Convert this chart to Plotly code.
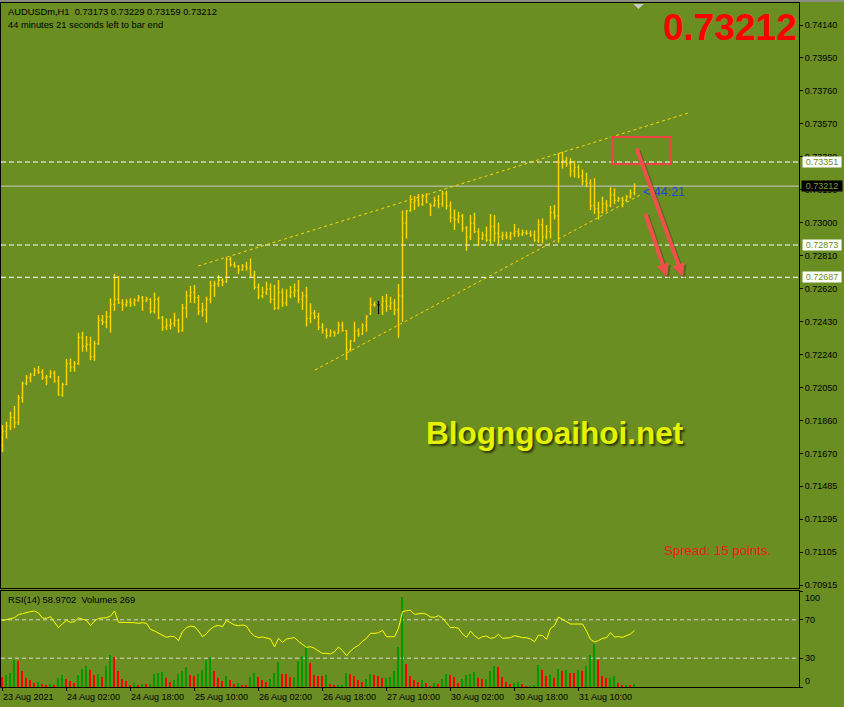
import plotly.graph_objects as go

# ---------------- data ----------------
symbol = "AUDUSDm,H1"
time_left = (44, 21)          # minutes, seconds left to bar end
spread_points = 15
site = "Blogngoaihoi.net"

opens = [0.71720, 0.71800, 0.71830, 0.71880, 0.71850, 0.71995, 0.72075, 0.72110, 0.72125, 0.72150,
         0.72140, 0.72110, 0.72115, 0.72135, 0.72090, 0.72010, 0.72070, 0.72190, 0.72170, 0.72190,
         0.72340, 0.72290, 0.72300, 0.72230, 0.72305, 0.72440, 0.72430, 0.72460, 0.72530, 0.72560,
         0.72540, 0.72530, 0.72545, 0.72540, 0.72555, 0.72570, 0.72550, 0.72560, 0.72490, 0.72560,
         0.72455, 0.72400, 0.72410, 0.72420, 0.72440, 0.72380, 0.72510, 0.72580, 0.72600, 0.72570,
         0.72490, 0.72500, 0.72560, 0.72640, 0.72650, 0.72670, 0.72660, 0.72790, 0.72760, 0.72750,
         0.72730, 0.72750, 0.72740, 0.72700, 0.72630, 0.72580, 0.72600, 0.72620, 0.72560, 0.72510,
         0.72600, 0.72540, 0.72580, 0.72600, 0.72610, 0.72560, 0.72580, 0.72450, 0.72480, 0.72460,
         0.72400, 0.72380, 0.72350, 0.72370, 0.72365, 0.72410, 0.72380, 0.72270, 0.72320, 0.72380,
         0.72360, 0.72410, 0.72475, 0.72530, 0.72530, 0.72530, 0.72550, 0.72520, 0.72540, 0.72500,
         0.72580, 0.73000, 0.73070, 0.73120, 0.73130, 0.73110, 0.73150, 0.73110, 0.73100, 0.73130,
         0.73110, 0.73170, 0.73100, 0.73030, 0.73020, 0.73040, 0.72970, 0.72920, 0.73000, 0.72950,
         0.72910, 0.72930, 0.72900, 0.72980, 0.72940, 0.72920, 0.72930, 0.72920, 0.72940, 0.72950,
         0.72935, 0.72945, 0.72940, 0.72930, 0.72900, 0.72990, 0.72920, 0.72950, 0.73060, 0.73040,
         0.73350, 0.73360, 0.73340, 0.73300, 0.73320, 0.73270, 0.73240, 0.73230, 0.73100, 0.73080,
         0.73060, 0.73110, 0.73100, 0.73160, 0.73130, 0.73140, 0.73130, 0.73150, 0.73173]
highs = [0.71836, 0.71855, 0.71913, 0.71946, 0.72009, 0.72086, 0.72124, 0.72137, 0.72166, 0.72176,
         0.72157, 0.72124, 0.72153, 0.72149, 0.72118, 0.72080, 0.72216, 0.72220, 0.72205, 0.72368,
         0.72374, 0.72349, 0.72345, 0.72322, 0.72470, 0.72470, 0.72493, 0.72566, 0.72706, 0.72694,
         0.72560, 0.72560, 0.72566, 0.72566, 0.72585, 0.72579, 0.72575, 0.72566, 0.72600, 0.72575,
         0.72464, 0.72450, 0.72450, 0.72483, 0.72450, 0.72533, 0.72610, 0.72637, 0.72642, 0.72585,
         0.72541, 0.72575, 0.72667, 0.72667, 0.72700, 0.72681, 0.72802, 0.72806, 0.72777, 0.72758,
         0.72763, 0.72777, 0.72796, 0.72725, 0.72652, 0.72633, 0.72662, 0.72652, 0.72643, 0.72671,
         0.72623, 0.72618, 0.72637, 0.72652, 0.72671, 0.72604, 0.72633, 0.72537, 0.72499, 0.72483,
         0.72422, 0.72393, 0.72387, 0.72380, 0.72431, 0.72431, 0.72383, 0.72326, 0.72431, 0.72393,
         0.72422, 0.72470, 0.72570, 0.72547, 0.72550, 0.72579, 0.72591, 0.72575, 0.72560, 0.72648,
         0.73071, 0.73075, 0.73161, 0.73155, 0.73167, 0.73167, 0.73171, 0.73113, 0.73151, 0.73161,
         0.73186, 0.73186, 0.73123, 0.73078, 0.73065, 0.73052, 0.72982, 0.73046, 0.73059, 0.72969,
         0.72950, 0.72979, 0.73052, 0.73046, 0.73002, 0.72950, 0.72950, 0.72950, 0.72994, 0.72969,
         0.72963, 0.72959, 0.72956, 0.72956, 0.73021, 0.73026, 0.72988, 0.73097, 0.73103, 0.73404,
         0.73410, 0.73381, 0.73372, 0.73358, 0.73337, 0.73308, 0.73289, 0.73251, 0.73257, 0.73122,
         0.73151, 0.73132, 0.73205, 0.73199, 0.73151, 0.73151, 0.73161, 0.73193, 0.73229]
lows = [0.71680, 0.71759, 0.71807, 0.71817, 0.71836, 0.71965, 0.72066, 0.72082, 0.72118, 0.72130,
        0.72095, 0.72066, 0.72105, 0.72080, 0.72005, 0.71999, 0.72066, 0.72143, 0.72143, 0.72182,
        0.72258, 0.72258, 0.72210, 0.72207, 0.72297, 0.72412, 0.72393, 0.72368, 0.72495, 0.72533,
        0.72495, 0.72518, 0.72518, 0.72522, 0.72546, 0.72495, 0.72546, 0.72479, 0.72479, 0.72445,
        0.72379, 0.72383, 0.72387, 0.72402, 0.72368, 0.72374, 0.72454, 0.72541, 0.72537, 0.72470,
        0.72460, 0.72425, 0.72537, 0.72575, 0.72633, 0.72637, 0.72656, 0.72748, 0.72744, 0.72706,
        0.72725, 0.72725, 0.72690, 0.72617, 0.72560, 0.72566, 0.72585, 0.72537, 0.72499, 0.72502,
        0.72518, 0.72522, 0.72566, 0.72572, 0.72537, 0.72499, 0.72403, 0.72422, 0.72445, 0.72384,
        0.72364, 0.72335, 0.72345, 0.72345, 0.72364, 0.72374, 0.72211, 0.72259, 0.72316, 0.72345,
        0.72355, 0.72374, 0.72470, 0.72518, 0.72476, 0.72470, 0.72489, 0.72499, 0.72470, 0.72339,
        0.72431, 0.72911, 0.73065, 0.73075, 0.73094, 0.73098, 0.73113, 0.73040, 0.73094, 0.73084,
        0.73094, 0.73078, 0.73002, 0.72959, 0.72998, 0.72950, 0.72840, 0.72902, 0.72940, 0.72867,
        0.72902, 0.72892, 0.72879, 0.72892, 0.72879, 0.72902, 0.72906, 0.72902, 0.72921, 0.72921,
        0.72925, 0.72931, 0.72921, 0.72892, 0.72886, 0.72882, 0.72905, 0.72911, 0.73020, 0.72886,
        0.73314, 0.73324, 0.73266, 0.73262, 0.73257, 0.73218, 0.73205, 0.73074, 0.73051, 0.73020,
        0.73055, 0.73065, 0.73090, 0.73109, 0.73122, 0.73090, 0.73122, 0.73141, 0.73159]
closes = [0.71800, 0.71830, 0.71880, 0.71850, 0.71995, 0.72075, 0.72110, 0.72125, 0.72150, 0.72140,
          0.72110, 0.72115, 0.72135, 0.72090, 0.72010, 0.72070, 0.72190, 0.72170, 0.72190, 0.72340,
          0.72290, 0.72300, 0.72230, 0.72305, 0.72440, 0.72430, 0.72460, 0.72530, 0.72560, 0.72540,
          0.72530, 0.72545, 0.72540, 0.72555, 0.72570, 0.72550, 0.72560, 0.72490, 0.72560, 0.72455,
          0.72400, 0.72410, 0.72420, 0.72440, 0.72380, 0.72510, 0.72580, 0.72600, 0.72570, 0.72490,
          0.72500, 0.72560, 0.72640, 0.72650, 0.72670, 0.72660, 0.72790, 0.72760, 0.72750, 0.72730,
          0.72750, 0.72740, 0.72700, 0.72630, 0.72580, 0.72600, 0.72620, 0.72560, 0.72510, 0.72600,
          0.72540, 0.72580, 0.72600, 0.72610, 0.72560, 0.72580, 0.72450, 0.72480, 0.72460, 0.72400,
          0.72380, 0.72350, 0.72370, 0.72365, 0.72410, 0.72380, 0.72270, 0.72320, 0.72380, 0.72360,
          0.72410, 0.72460, 0.72530, 0.72530, 0.72530, 0.72550, 0.72520, 0.72540, 0.72500, 0.72580,
          0.73000, 0.73070, 0.73120, 0.73130, 0.73110, 0.73150, 0.73120, 0.73100, 0.73130, 0.73110,
          0.73170, 0.73100, 0.73030, 0.73020, 0.73040, 0.72970, 0.72920, 0.73000, 0.72950, 0.72910,
          0.72930, 0.72900, 0.72980, 0.72940, 0.72920, 0.72930, 0.72920, 0.72940, 0.72950, 0.72935,
          0.72945, 0.72940, 0.72930, 0.72900, 0.72990, 0.72920, 0.72950, 0.73060, 0.73040, 0.73350,
          0.73360, 0.73340, 0.73300, 0.73320, 0.73270, 0.73240, 0.73230, 0.73100, 0.73080, 0.73060,
          0.73110, 0.73100, 0.73160, 0.73130, 0.73140, 0.73130, 0.73150, 0.73173, 0.73212]
volumes = [900, 1050, 1290, 2400, 2310, 1410, 810, 600, 390, 450,
           300, 150, 240, 210, 840, 1110, 690, 510, 360, 1050,
           1590, 1860, 1500, 1050, 1200, 900, 1890, 2850, 2700, 1410,
           750, 510, 210, 390, 150, 300, 240, 270, 1170, 1260,
           1320, 840, 420, 600, 1200, 1470, 1800, 1050, 990, 1140,
           1500, 2430, 2670, 1410, 810, 540, 960, 600, 270, 360,
           210, 200, 900, 1290, 930, 600, 450, 690, 1230, 2220,
           1200, 1140, 900, 930, 2310, 2760, 3600, 2130, 1110, 990,
           960, 1080, 240, 120, 150, 180, 1230, 1200, 990, 600,
           450, 690, 1140, 1110, 990, 810, 840, 870, 1410, 3600,
           8100, 2040, 960, 600, 450, 600, 360, 90, 330, 270,
           690, 1140, 1110, 900, 390, 690, 1050, 1200, 1320, 810,
           720, 750, 1410, 1890, 1800, 900, 450, 270, 360, 450,
           270, 60, 90, 150, 1950, 1500, 990, 1050, 810, 1590,
           1410, 1500, 1260, 1230, 1500, 1470, 1890, 2850, 3870, 2400,
           990, 810, 840, 990, 360, 180, 210, 150, 269]
rsi = [69.1, 69.8, 71.2, 72.2, 75.4, 76.4, 77.8, 78.5, 79.2, 77.1,
       71.9, 71.5, 73.3, 68.1, 61.8, 66.0, 69.4, 67.4, 68.0, 71.9,
       70.8, 69.4, 63.9, 68.7, 71.5, 71.5, 72.2, 73.9, 79.2, 67.4,
       67.4, 67.0, 67.4, 67.0, 66.3, 67.0, 66.3, 60.1, 58.3, 56.2,
       53.5, 51.7, 52.8, 52.4, 48.3, 57.6, 61.8, 63.5, 62.8, 58.3,
       52.4, 55.6, 60.4, 63.2, 64.2, 62.8, 69.4, 67.4, 64.6, 63.9,
       64.6, 63.5, 56.9, 53.1, 51.4, 52.1, 51.4, 50.0, 41.7, 50.7,
       46.5, 50.0, 50.7, 51.4, 47.6, 44.4, 41.3, 42.0, 40.3, 37.5,
       35.1, 35.1, 34.4, 36.8, 41.7, 37.9, 32.6, 37.5, 41.0, 43.4,
       47.6, 50.7, 55.9, 55.9, 56.6, 59.0, 52.4, 52.4, 52.4, 61.1,
       78.5, 79.5, 79.9, 75.7, 76.0, 76.8, 75.7, 72.9, 72.6, 74.3,
       71.9, 67.4, 61.8, 62.2, 61.1, 55.2, 51.7, 58.3, 53.5, 50.4,
       52.4, 53.1, 50.7, 51.4, 54.9, 50.7, 51.4, 51.4, 53.5, 52.4,
       51.4, 51.4, 50.0, 47.2, 54.2, 53.5, 49.7, 61.1, 63.9, 72.9,
       70.5, 68.8, 65.6, 65.6, 65.3, 65.6, 58.3, 49.7, 46.9, 48.3,
       50.7, 51.4, 56.6, 52.1, 52.4, 51.8, 53.5, 55.2, 58.9702]
black_bar = 94   # the single bar drawn in black

price_ticks = [0.74140, 0.73950, 0.73760, 0.73570, 0.73380, 0.73190, 0.73000, 0.72810, 0.72620,
               0.72430, 0.72240, 0.72050, 0.71860, 0.71670, 0.71485, 0.71295, 0.71105, 0.70915]
rsi_levels = [100, 70, 30, 0]
x_tick_idx = [0, 16, 32, 48, 64, 80, 96, 112, 128, 144]
x_tick_text = ["23 Aug 2021", "24 Aug 02:00", "24 Aug 18:00", "25 Aug 10:00", "26 Aug 02:00",
               "26 Aug 18:00", "27 Aug 10:00", "30 Aug 02:00", "30 Aug 18:00", "31 Aug 10:00"]

h_levels = [0.73351, 0.72873, 0.72687]
upper_x, upper_y = [48.9, 171.4], [0.72752, 0.73633]
lower_x, lower_y = [78.1, 159.4], [0.72153, 0.73161]
zone_x, zone_y = [152.4, 167.1], [0.73340, 0.73495]
arrow_tail_x, arrow_tail_y = [158.4, 160.6], [0.73437, 0.73063]
arrow_head_x, arrow_head_y = [170.1, 166.1], [0.72690, 0.72690]

# ---------------- layout helpers ----------------
W, H = 844, 707
L, R, T, B = 1, 799, 3, 687
def fx(p): return (p - L) / (R - L)
def fy(p): return (B - p) / (B - T)

OLIVE = "#6B8E23"
GOLD = "#FFD700"
FONT = "Liberation Sans, Arial, sans-serif"
n = len(closes)
idx = list(range(n))

fig = go.Figure()

# price bars
fig.add_trace(go.Ohlc(x=idx, open=opens, high=highs, low=lows, close=closes,
                      xaxis="x", yaxis="y", tickwidth=0.3, line=dict(width=1.4),
                      increasing=dict(line=dict(color=GOLD, width=1.4)),
                      decreasing=dict(line=dict(color=GOLD, width=1.4)),
                      hoverinfo="skip", showlegend=False))
b = black_bar
fig.add_trace(go.Ohlc(x=[b], open=[opens[b]], high=[highs[b]], low=[lows[b]], close=[closes[b]],
                      xaxis="x", yaxis="y", tickwidth=0.3,
                      increasing=dict(line=dict(color="black", width=1.4)),
                      decreasing=dict(line=dict(color="black", width=1.4)),
                      hoverinfo="skip", showlegend=False))

# volumes (base axis y2) and RSI (overlay y3)
vol_colors = ["#009A00" if (i > 0 and volumes[i] > volumes[i - 1]) else "#FF0000" for i in idx]
fig.add_trace(go.Bar(x=idx, y=volumes, marker=dict(color=vol_colors, line=dict(width=0)),
                     width=0.4, xaxis="x2", yaxis="y2", hoverinfo="skip", showlegend=False))
fig.add_trace(go.Scatter(x=idx, y=rsi, mode="lines", line=dict(color="#FFFF00", width=1),
                         xaxis="x2", yaxis="y3", hoverinfo="skip", showlegend=False))

xr = [(L - 2.5) / 4, (R - 2.5) / 4]
main_dom = [fy(588), 1]
sub_dom = [0, fy(591)]
p_top = price_ticks[0] + (25 - T) * (price_ticks[0] - price_ticks[-1]) / 560
p_bot = price_ticks[0] - (588 - 25) * (price_ticks[0] - price_ticks[-1]) / 560
vmax = max(volumes)

axis_common = dict(showgrid=False, zeroline=False, showline=True, linecolor="black",
                   linewidth=1, mirror=True)
fig.update_layout(
    width=W, height=H, margin=dict(l=L, r=W - R, t=T, b=H - B),
    paper_bgcolor=OLIVE, plot_bgcolor=OLIVE, showlegend=False,
    font=dict(family=FONT, size=9, color="black"),
    bargap=0,
    xaxis=dict(domain=[0, 1], anchor="y", range=xr, showticklabels=False, ticks="",
               rangeslider=dict(visible=False), **axis_common),
    yaxis=dict(domain=main_dom, anchor="x", side="right", range=[p_bot, p_top],
               tickvals=price_ticks, ticktext=[f"{v:.5f}" for v in price_ticks],
               ticks="outside", ticklen=3, tickcolor="black",
               tickfont=dict(family=FONT, size=9, color="black"), **axis_common),
    xaxis2=dict(domain=[0, 1], anchor="y2", range=xr, matches="x",
                tickvals=x_tick_idx, ticks="outside", ticklen=3, tickcolor="black",
                showticklabels=False, **axis_common),
    yaxis2=dict(domain=sub_dom, anchor="x2", side="right", range=[0, vmax * 96 / 90.3],
                showticklabels=False, ticks="", **axis_common),
    yaxis3=dict(overlaying="y2", anchor="x2", side="right", range=[0, 100],
                tickvals=rsi_levels, ticks="outside", ticklen=3, tickcolor="black",
                showticklabels=False, showgrid=False, zeroline=False, showline=False),
)

shapes = []
# window chrome top
shapes.append(dict(type="line", xref="paper", yref="paper", x0=-0.01, x1=1.1,
                   y0=fy(0.8), y1=fy(0.8), line=dict(color="#8C8C8C", width=2)))
# chart-shift triangle
shapes.append(dict(type="path", xref="x", yref="paper",
                   path=f"M {n - 1.3},{fy(4)} L {n + 1.3},{fy(4)} L {n},{fy(9)} Z",
                   fillcolor="#C8C8C8", line=dict(width=0)))
# horizontal levels
for lv in h_levels:
    shapes.append(dict(type="line", xref="x domain", yref="y", x0=0, x1=1, y0=lv, y1=lv,
                       line=dict(color="white", width=1, dash="5px,3px"), layer="above"))
# bid line
shapes.append(dict(type="line", xref="x domain", yref="y", x0=0, x1=1, y0=closes[-1], y1=closes[-1],
                   line=dict(color="#C8C8C8", width=1), layer="below"))
# channel lines
for cx, cy in [(upper_x, upper_y), (lower_x, lower_y)]:
    shapes.append(dict(type="line", xref="x", yref="y", x0=cx[0], x1=cx[1], y0=cy[0], y1=cy[1],
                       line=dict(color=GOLD, width=1, dash="3px,3px")))
# zone rectangle
shapes.append(dict(type="rect", xref="x", yref="y", x0=zone_x[0], x1=zone_x[1],
                   y0=zone_y[0], y1=zone_y[1], line=dict(color="#F04444", width=2)))
# RSI levels
for lv in rsi_levels[1:3]:
    shapes.append(dict(type="line", xref="x2 domain", yref="y3", x0=0, x1=1, y0=lv, y1=lv,
                       line=dict(color="#D8D8D8", width=1, dash="4px,3px"), layer="below"))
fig.update_layout(shapes=shapes)

ann = []
def text(x, y, s, size=9.3, color="black", xanchor="left", bold=False, font_extra=None, **kw):
    f = dict(family=FONT, size=size, color=color)
    if font_extra:
        f.update(font_extra)
    ann.append(dict(xref="paper", yref="paper", x=fx(x), y=fy(y), text=(f"<b>{s}</b>" if bold else s),
                    showarrow=False, xanchor=xanchor, yanchor="middle", font=f, **kw))

mins, secs = time_left
text(7, 12, f"{symbol}\u00a0 {opens[-1]:.5f} {highs[-1]:.5f} {lows[-1]:.5f} {closes[-1]:.5f}", xshift=-1)
text(7, 25, f"{mins} minutes {secs} seconds left to bar end", xshift=-1)
text(799, 27, f"{closes[-1]:.5f}", size=37, color="#FF0000", xanchor="right", bold=True)
text(641, 192, f"&lt; {mins}:{secs:02d}", size=12.5, color="#2440E8")
text(424, 433, site, size=31.5, color="#E4F200", bold=True,
     font_extra=dict(shadow="2px 2px 2px rgba(35,45,5,0.85)"))
text(662, 550, f"Spread: {spread_points} points.", size=13.2, color="#F01818")
text(7, 600, f"RSI(14) {rsi[-1]:.4f}\u00a0 Volumes {volumes[-1]}", xshift=-1)

# x tick labels (left aligned at tick)
for i, t in zip(x_tick_idx, x_tick_text):
    ann.append(dict(xref="x2", yref="paper", x=i, y=fy(697), text=t, showarrow=False,
                    xanchor="left", yanchor="middle", xshift=-1.5,
                    font=dict(family=FONT, size=9, color="black")))
# RSI scale labels
for lv, sh in zip(rsi_levels, [-6.5, 0, 0, 6.5]):
    ann.append(dict(xref="paper", yref="y3", x=fx(803), y=lv, yshift=sh, text=str(lv),
                    showarrow=False, xanchor="left", yanchor="middle",
                    font=dict(family=FONT, size=9, color="black")))
# price level boxes
for lv in h_levels:
    ann.append(dict(xref="paper", yref="y", x=fx(801.5), y=lv, text=f"{lv:.5f}", showarrow=False,
                    xanchor="left", yanchor="middle", width=38, height=10, bgcolor="white",
                    borderpad=0, font=dict(family=FONT, size=9, color=OLIVE)))
ann.append(dict(xref="paper", yref="y", x=fx(800.5), y=closes[-1], text=f"{closes[-1]:.5f}",
                showarrow=False, xanchor="left", yanchor="middle", width=40, height=10,
                bgcolor="black", borderpad=0, font=dict(family=FONT, size=9, color="#7E9E38")))
# arrows (shadow first)
for tx, ty, hx, hy in zip(arrow_tail_x, arrow_tail_y, arrow_head_x, arrow_head_y):
    ann.append(dict(xref="x", yref="y", axref="x", ayref="y", x=hx, y=hy, ax=tx, ay=ty, text="",
                    showarrow=True, arrowhead=2, arrowsize=0.65, arrowwidth=4,
                    arrowcolor="rgba(50,45,20,0.35)", xshift=2, yshift=-2))
for tx, ty, hx, hy in zip(arrow_tail_x, arrow_tail_y, arrow_head_x, arrow_head_y):
    ann.append(dict(xref="x", yref="y", axref="x", ayref="y", x=hx, y=hy, ax=tx, ay=ty, text="",
                    showarrow=True, arrowhead=2, arrowsize=0.65, arrowwidth=4,
                    arrowcolor="#F0504A"))
fig.update_layout(annotations=ann)

fig.write_html("out.html", config={"displayModeBar": False},
               post_script="document.body.style.margin='0';document.body.style.overflow='hidden';")
